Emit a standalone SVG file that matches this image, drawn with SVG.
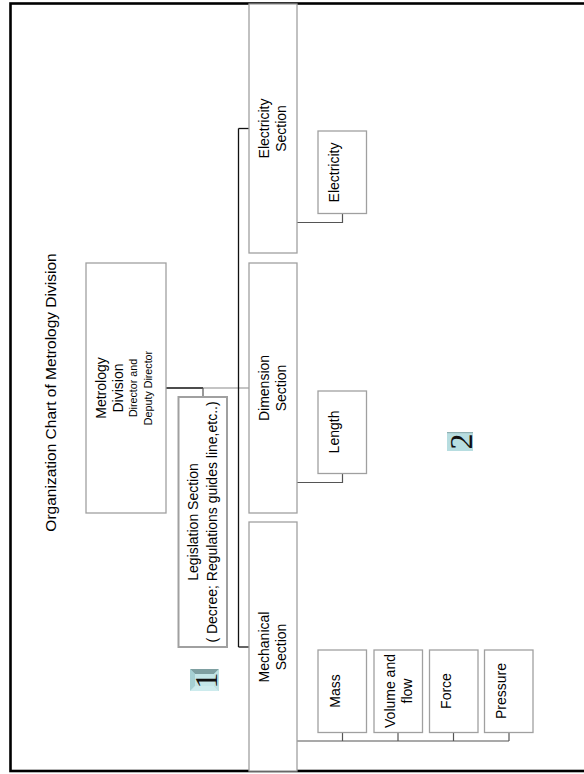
<svg xmlns="http://www.w3.org/2000/svg" width="584" height="774" viewBox="0 0 584 774">
<defs>
<style>
.box{fill:#fff;stroke:#a0a0a0;stroke-width:1.3}
.t{font-family:"Liberation Sans",Arial,sans-serif;font-size:14px;fill:#000;text-anchor:middle}
.s{font-size:10.7px}
.num{font-family:"Liberation Serif","Times New Roman",serif;font-size:32px;fill:#111;text-anchor:middle}
.blk{stroke:#111;stroke-width:1.3;fill:none}
.gry{stroke:#555;stroke-width:1.2;fill:none}
.lt{stroke:#8a8a8a;stroke-width:1.1;fill:none}
</style>
</defs>
<rect x="0" y="0" width="584" height="774" fill="#fff"/>
<rect x="10.5" y="3.5" width="620" height="767.5" fill="none" stroke="#000" stroke-width="2.6"/>

<g id="title">
<text class="t" style="font-size:15.5px" transform="translate(56,392.5) rotate(-90)">Organization Chart of Metrology Division</text>
</g>

<g id="connectors">
<line class="blk" x1="166" y1="388" x2="203" y2="388"/>
<line class="lt" x1="203" y1="388" x2="249" y2="388"/>
<line class="gry" x1="203" y1="388" x2="203" y2="397"/>
<line class="blk" x1="238.5" y1="128.5" x2="238.5" y2="647"/>
<line class="blk" x1="238.5" y1="128.5" x2="249" y2="128.5"/>
<line class="blk" x1="238.5" y1="647" x2="249" y2="647"/>
<polyline class="gry" points="297,222.5 342.5,222.5 342.5,213.5"/>
<polyline class="gry" points="297,482.5 342.5,482.5 342.5,473.5"/>
<line class="gry" x1="297" y1="741" x2="509" y2="741"/>
<line class="gry" x1="342.5" y1="741" x2="342.5" y2="732.5"/>
<line class="gry" x1="398" y1="741" x2="398" y2="732.5"/>
<line class="gry" x1="453.5" y1="741" x2="453.5" y2="732.5"/>
<line class="gry" x1="509" y1="741" x2="509" y2="732.5"/>
</g>

<g id="metrology-division">
<rect class="box" x="86" y="263" width="80" height="250"/>
<text class="t" transform="translate(106,388) rotate(-90)">Metrology</text>
<text class="t" transform="translate(123,388) rotate(-90)">Division</text>
<text class="t s" transform="translate(137,388) rotate(-90)">Director and</text>
<text class="t s" transform="translate(151.5,388) rotate(-90)">Deputy Director</text>
</g>

<g id="legislation-section">
<rect class="box" x="178.5" y="397" width="48.5" height="250" style="stroke-width:2"/>
<text class="t" transform="translate(198,522) rotate(-90)">Legislation Section</text>
<text class="t" transform="translate(216.5,522) rotate(-90)">( Decree; Regulations guides line,etc..)</text>
</g>

<g id="electricity-section">
<rect class="box" x="249" y="4" width="48" height="249"/>
<text class="t" transform="translate(269,128.5) rotate(-90)"><tspan x="0" y="0">Electricity</tspan><tspan x="0" y="17">Section</tspan></text>
</g>

<g id="dimension-section">
<rect class="box" x="249" y="263" width="48" height="250"/>
<text class="t" transform="translate(269,388) rotate(-90)"><tspan x="0" y="0">Dimension</tspan><tspan x="0" y="17">Section</tspan></text>
</g>

<g id="mechanical-section">
<rect class="box" x="249" y="522" width="48" height="249"/>
<text class="t" transform="translate(269,647) rotate(-90)"><tspan x="0" y="0">Mechanical</tspan><tspan x="0" y="17">Section</tspan></text>
</g>

<g id="electricity">
<rect class="box" x="318" y="131" width="48.5" height="82.5"/>
<text class="t" transform="translate(338.5,172.5) rotate(-90)">Electricity</text>
</g>

<g id="length">
<rect class="box" x="318" y="391" width="48.5" height="82.5"/>
<text class="t" transform="translate(338.5,432) rotate(-90)">Length</text>
</g>

<g id="mass">
<rect class="box" x="318" y="650" width="48.5" height="82.5"/>
<text class="t" transform="translate(339.5,691) rotate(-90)">Mass</text>
</g>

<g id="volume-and-flow">
<rect class="box" x="374" y="650" width="48.5" height="82.5"/>
<text class="t" transform="translate(394.5,691) rotate(-90)"><tspan x="0" y="0">Volume and</tspan><tspan x="0" y="17">flow</tspan></text>
</g>

<g id="force">
<rect class="box" x="429.5" y="650" width="48.5" height="82.5"/>
<text class="t" transform="translate(450.5,691) rotate(-90)">Force</text>
</g>

<g id="pressure">
<rect class="box" x="484.5" y="650" width="48.5" height="82.5"/>
<text class="t" transform="translate(505.5,691) rotate(-90)">Pressure</text>
</g>

<g id="badge-1">
<rect x="190" y="669" width="29" height="22" fill="#b4dcdf"/>
<polygon points="190,669 219,669 214,674 195,674" fill="#7e9fa1"/>
<polygon points="190,669 195,674 195,686 190,691" fill="#a6d0d3"/>
<polygon points="190,691 195,686 214,686 219,691" fill="#cdebed"/>
<polygon points="219,669 214,674 214,686 219,691" fill="#bfe2e4"/>
<rect x="195" y="674" width="19" height="12" fill="#c4e6e8"/>
<text class="num" transform="translate(216.5,680.5) rotate(-90)">1</text>
</g>

<g id="badge-2">
<rect x="447" y="432" width="26" height="19" fill="#b7dde0"/>
<line x1="447" y1="432.6" x2="473" y2="432.6" stroke="#8fb0b2" stroke-width="1.2"/>
<text class="num" transform="translate(472,441.5) rotate(-90)">2</text>
</g>
</svg>
